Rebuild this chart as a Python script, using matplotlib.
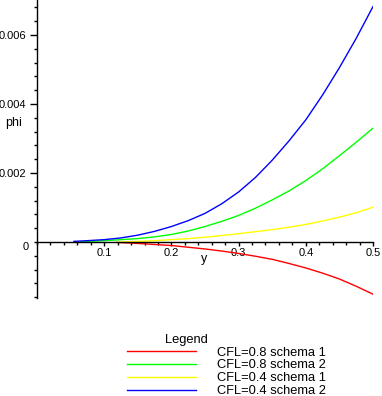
import matplotlib
matplotlib.use("Agg")
import matplotlib.pyplot as plt
from matplotlib.ticker import MultipleLocator

plt.rcParams['font.family'] = ['Liberation Sans', 'DejaVu Sans']

# CFL=0.8 schema 1 (red)
x_red = [0.119, 0.15, 0.175, 0.2, 0.225, 0.25, 0.275, 0.3, 0.325, 0.35,
         0.375, 0.4, 0.425, 0.45, 0.475, 0.5]
phi_red = [-0.00001, -0.00004, -0.00007, -0.0001, -0.00015, -0.0002, -0.00026,
           -0.00033, -0.00041, -0.0005, -0.00062, -0.00075, -0.0009, -0.00107,
           -0.00128, -0.00151]

# CFL=0.8 schema 2 (green)
x_green = [0.064, 0.1, 0.125, 0.15, 0.175, 0.2, 0.225, 0.25, 0.275, 0.3,
           0.325, 0.35, 0.375, 0.4, 0.425, 0.45, 0.475, 0.5]
phi_green = [0.00001, 0.00004, 0.00007, 0.0001, 0.00015, 0.00022, 0.00032,
             0.00045, 0.0006, 0.00077, 0.00098, 0.00122, 0.00148, 0.00178,
             0.00212, 0.0025, 0.00289, 0.0033]

# CFL=0.4 schema 1 (yellow)
x_yellow = [0.12, 0.15, 0.175, 0.2, 0.225, 0.25, 0.275, 0.3, 0.325, 0.35,
            0.375, 0.4, 0.425, 0.45, 0.475, 0.5]
phi_yellow = [0.0, 0.00002, 0.00004, 0.00007, 0.0001, 0.00014, 0.00019,
              0.00024, 0.0003, 0.00036, 0.00043, 0.00051, 0.00061, 0.00072,
              0.00085, 0.00101]

# CFL=0.4 schema 2 (blue)
x_blue = [0.055, 0.075, 0.1, 0.125, 0.15, 0.175, 0.2, 0.225, 0.25, 0.275,
          0.3, 0.325, 0.35, 0.375, 0.4, 0.425, 0.45, 0.475, 0.5]
phi_blue = [0.00002, 0.00004, 0.00007, 0.00012, 0.0002, 0.00031, 0.00045,
            0.00062, 0.00083, 0.00111, 0.00145, 0.00187, 0.00237, 0.00293,
            0.00354, 0.00426, 0.00505, 0.0059, 0.00682]

labels = ["CFL=0.8 schema 1", "CFL=0.8 schema 2",
          "CFL=0.4 schema 1", "CFL=0.4 schema 2"]
yticks = [0.002, 0.004, 0.006]
xticks = [0.1, 0.2, 0.3, 0.4, 0.5]

W, H = 382, 396
fig = plt.figure(figsize=(W / 100, H / 100), dpi=100)
ax = fig.add_axes([37 / W, 1 - 298 / H, 336 / W, 298 / H])

ax.plot(x_red, phi_red, color='#ff0000', lw=1, label=labels[0])
ax.plot(x_green, phi_green, color='#00ff00', lw=1, label=labels[1])
ax.plot(x_yellow, phi_yellow, color='#ffff00', lw=1, label=labels[2])
ax.plot(x_blue, phi_blue, color='#0000ff', lw=1, label=labels[3])

ax.set_xlim(0, 0.5)
ax.set_ylim(-0.00162, 0.00701)

for s in ['top', 'right']:
    ax.spines[s].set_visible(False)
ax.spines['bottom'].set_position(('data', 0))
ax.spines['left'].set_linewidth(1)
ax.spines['bottom'].set_linewidth(1)

ax.set_xticks(xticks)
ax.set_xticklabels([f"{v:g}" for v in xticks])
ax.set_yticks(yticks)
ax.set_yticklabels([f"{v:.3f}" for v in yticks])
ax.xaxis.set_minor_locator(MultipleLocator(0.02))
ax.yaxis.set_minor_locator(MultipleLocator(0.0004))
ax.tick_params(axis='y', which='major', direction='out', length=5, width=1,
               pad=3, labelsize=8)
ax.tick_params(axis='y', which='minor', direction='out', length=2, width=1)
ax.tick_params(axis='x', which='major', direction='out', length=3, width=1,
               pad=1.5, labelsize=8)
ax.tick_params(axis='x', which='minor', direction='out', length=2, width=1)

# axis labels and origin label
fig.text(26 / W, 1 - 247 / H, "0", fontsize=8, ha='center', va='center')
fig.text(14 / W, 1 - 123 / H, "phi", fontsize=9, ha='center', va='center')
fig.text(204.5 / W, 1 - 259 / H, "y", fontsize=9, ha='center', va='center')

# legend below the plot
fig.text(186 / W, 1 - 340 / H, "Legend", fontsize=9.3, ha='center', va='center')
handles, labs = ax.get_legend_handles_labels()
fig.legend(handles, labs, loc='upper left', bbox_to_anchor=(127 / W, 1 - 346.5 / H),
           frameon=False, fontsize=9.3, borderpad=0, borderaxespad=0,
           handlelength=5.35, handletextpad=1.63, labelspacing=0.07)

fig.savefig("out.png", dpi=100)
